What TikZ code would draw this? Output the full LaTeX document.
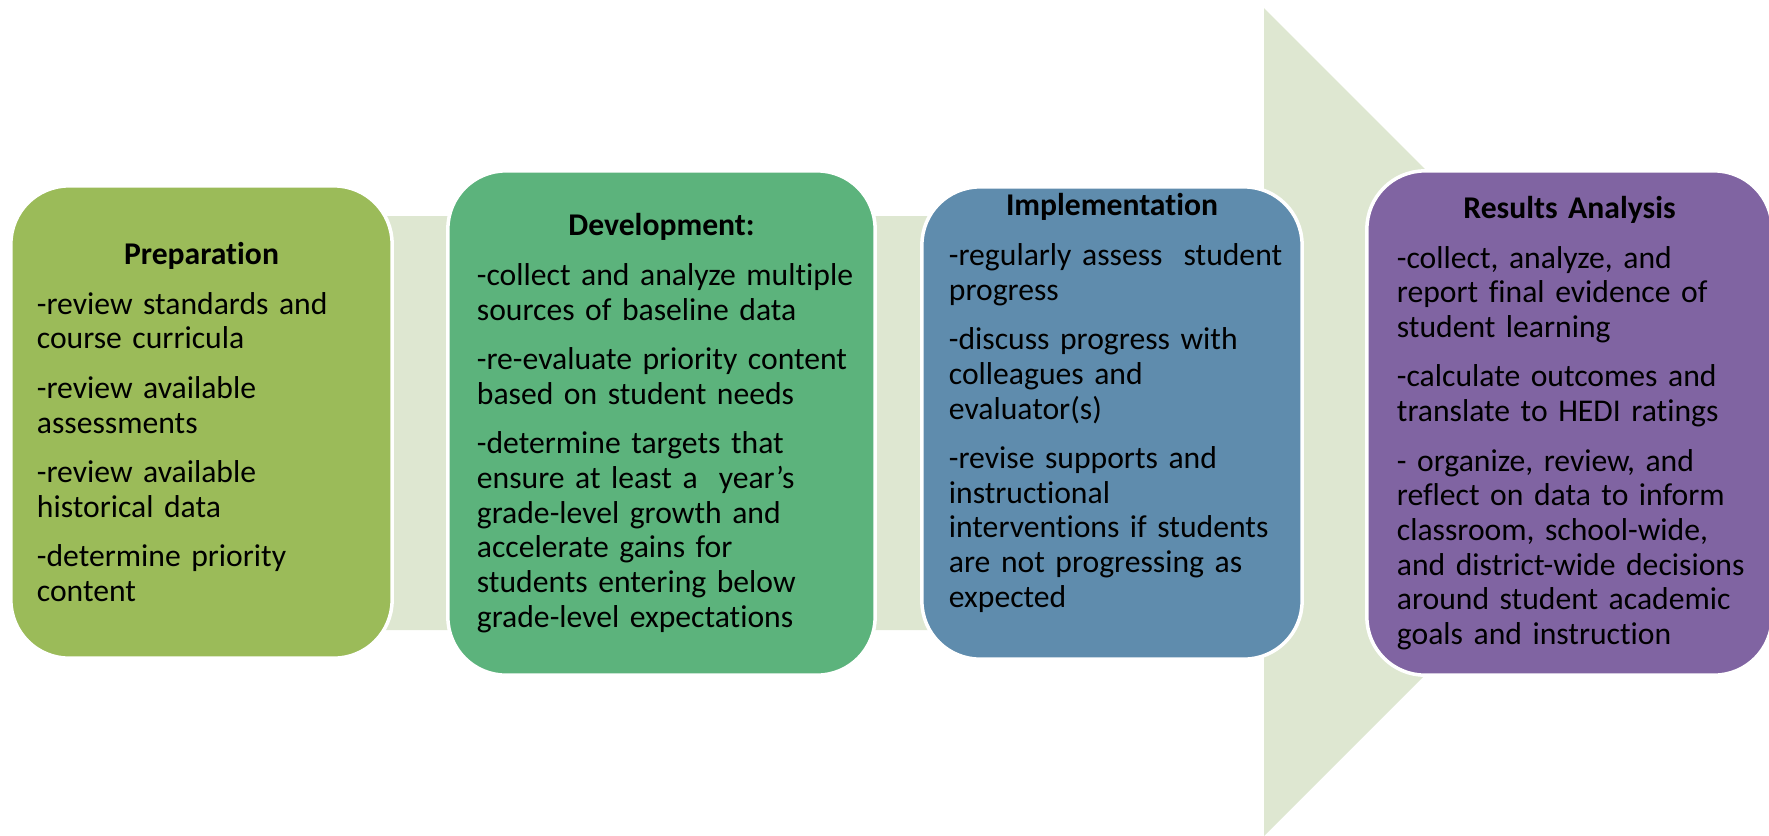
\documentclass[tikz,border=0pt]{standalone}
\usepackage{fontspec}
\setmainfont{Carlito}[Ligatures={NoCommon}]
\definecolor{prepgreen}{HTML}{9BBB59}
\definecolor{devgreen}{HTML}{5CB37C}
\definecolor{implblue}{HTML}{5F8CAD}
\definecolor{respurple}{HTML}{8064A2}
\definecolor{arrowfill}{HTML}{DEE7D1}
\tikzset{
    stage/.style={rectangle,rounded corners=0.58cm,draw=white,line width=1pt,
      text width=#1,align=left,inner sep=0pt,
      font=\fontsize{9pt}{9.85pt}\selectfont,
      execute at begin node={\setlength{\parskip}{4.25pt}\hyphenpenalty=10000\exhyphenpenalty=10000\rightskip=0pt plus 1fil minus 1cm}}
}
\newcommand{\stagehead}[1]{{\centering\bfseries #1\par}}
\newcommand{\stagepad}[1]{\par\vskip#1\nointerlineskip\hbox{}}

\begin{document}
\begin{tikzpicture}[x=0.01cm,y=-0.01cm]
  \useasboundingbox (0,0) rectangle (1769,835);
  \fill[arrowfill] (150,216) -- (1264,216) -- (1264,8) -- (1678,422) -- (1264,836) -- (1264,630) -- (150,630) -- cycle;

  \node[stage=3.29cm, fill=prepgreen, minimum width=3.81cm, minimum height=4.72cm] (prep) at (201.5,422) {%
    \stagehead{Preparation}
    -review standards and\\ course curricula\par
    -review available\\ assessments\par
    -review available\\ historical data\par
    -determine priority\\ content};
  \node[stage=3.69cm, fill=devgreen, minimum width=4.27cm, minimum height=5.04cm] (dev) at (661.5,423) {%
    \stagehead{Development:}
    -collect and analyze multiple\\ sources of baseline data\par
    -re-evaluate priority content\\ based on student needs\par
    -determine targets that\\ ensure at least a\ \ year’s\\ grade-level growth and\\ accelerate gains for\\ students entering below\\ grade-level expectations};
  \node[stage=3.26cm, fill=implblue, minimum width=3.80cm, minimum height=4.72cm] (impl) at (1112,423) {%
    \stagehead{Implementation}
    -regularly assess\ \ student\\ progress\par
    -discuss progress with\\ colleagues and\\ evaluator(s)\par
    -revise supports and\\ instructional\\ interventions if students\\ are not progressing as\\ expected\stagepad{0.4cm}};
  \node[stage=3.45cm, fill=respurple, minimum width=4.05cm, minimum height=5.04cm] (res) at (1569.5,423) {%
    \stagehead{Results Analysis}
    -collect, analyze, and\\ report final evidence of\\ student learning\par
    -calculate outcomes and\\ translate to HEDI ratings\par
    - organize, review, and\\ reflect on data to inform\\ classroom, school-wide,\\ and district-wide decisions\\ around student academic\\ goals and instruction};
\end{tikzpicture}
\end{document}
